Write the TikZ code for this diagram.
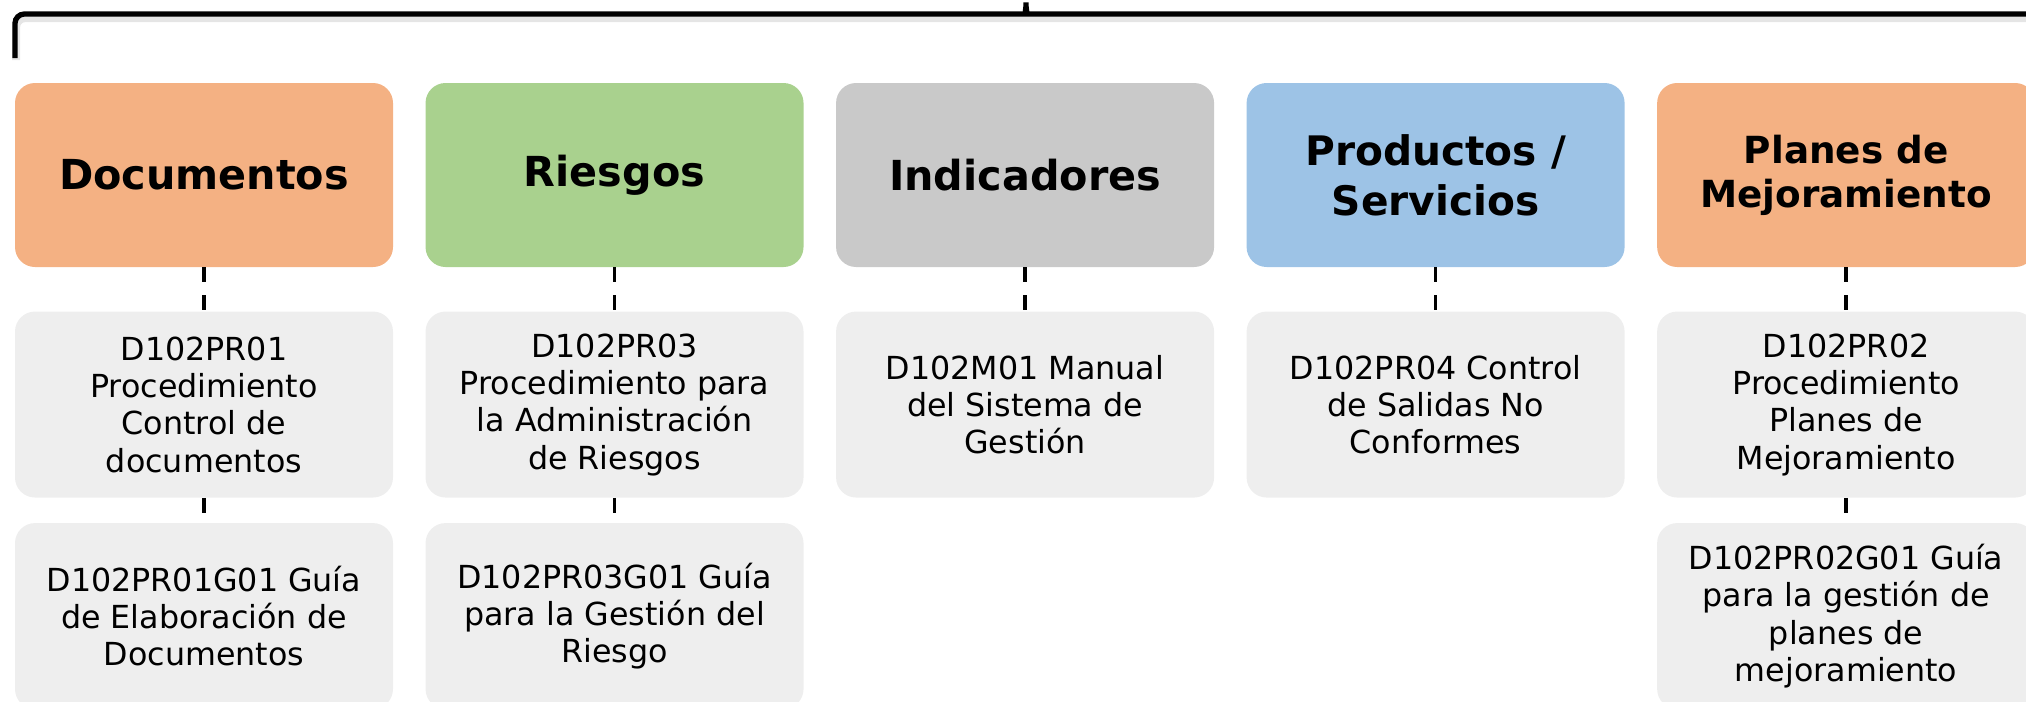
\documentclass[tikz,border=0pt]{standalone}
\usepackage{fontspec}
\setmainfont{DejaVu Sans}
\usetikzlibrary{positioning}

\definecolor{naranja}{HTML}{F4B183}
\definecolor{verde}{HTML}{A9D18E}
\definecolor{gris}{HTML}{C9C9C9}
\definecolor{azul}{HTML}{9DC3E6}
\definecolor{claro}{HTML}{EEEEEE}

\tikzset{
  cabeza/.style={
    rectangle,
    rounded corners=15pt,
    minimum width=283.5pt,
    minimum height=138pt,
    inner sep=0pt,
    align=center,
    font=\fontsize{31}{37}\selectfont\bfseries},
  cabezados/.style={
    cabeza,
    font=\fontsize{28}{33}\selectfont\bfseries},
  detalle/.style={
    rectangle,
    rounded corners=15pt,
    fill=claro,
    minimum width=283.5pt,
    minimum height=139.5pt,
    inner sep=0pt,
    align=center,
    font=\fontsize{23.8}{28}\selectfont},
  enlace/.style={line width=2.5pt, dash pattern=on 11.25pt off 9.75pt},
  llave/.style={line width=4pt, rounded corners=7pt}
}

\begin{document}
\begin{tikzpicture}[x=0.75pt, y=-0.75pt]
  \useasboundingbox (0,0) rectangle (2026,701);

  \node[cabeza, fill=naranja] (doc) at (204,175) {Documentos};
  \node[cabeza, fill=verde, right=24pt of doc] (rie) {Riesgos};
  \node[cabeza, fill=gris, right=24pt of rie] (ind) {Indicadores};
  \node[cabezados, fill=azul, font=\fontsize{30.5}{37.5}\selectfont\bfseries,
    right=24pt of ind] (pro) {Productos /\\Servicios};
  \node[cabezados, fill=naranja, right=24pt of pro] (pla) {Planes de\\Mejoramiento};

  \node[detalle, below=33pt of doc] (doc1) {D102PR01\\Procedimiento\\Control de\\documentos};
  \node[detalle, below=18.75pt of doc1] (doc2) {D102PR01G01 Guía\\de Elaboración de\\Documentos};

  \node[detalle, below=33pt of rie] (rie1) {D102PR03\\Procedimiento para\\la Administración\\de Riesgos};
  \node[detalle, below=18.75pt of rie1] (rie2) {D102PR03G01 Guía\\para la Gestión del\\Riesgo};

  \node[detalle, below=33pt of ind] (ind1) {D102M01 Manual\\del Sistema de\\Gestión};

  \node[detalle, below=33pt of pro] (pro1) {D102PR04 Control\\de Salidas No\\Conformes};

  \node[detalle, below=33pt of pla] (pla1) {D102PR02\\Procedimiento\\Planes de\\Mejoramiento};
  \node[detalle, below=18.75pt of pla1] (pla2) {D102PR02G01 Guía\\para la gestión de\\planes de\\mejoramiento};

  \draw[enlace] (doc)--(doc1);
  \draw[enlace] (doc1)--(doc2);
  \draw[enlace] (rie)--(rie1);
  \draw[enlace] (rie1)--(rie2);
  \draw[enlace] (ind)--(ind1);
  \draw[enlace] (pro)--(pro1);
  \draw[enlace] (pla)--(pla1);
  \draw[enlace] (pla1)--(pla2);

  % llave superior
  \draw[llave, black!10, line width=6pt] (16,60) -- (16,18) -- (2040,18);
  \draw[llave] (15,58) -- (15,14) -- (1018,14)
    .. controls (1024,14) and (1026,8) .. (1026,-3)
    .. controls (1026,8) and (1028,14) .. (1034,14) -- (2040,14);
\end{tikzpicture}
\end{document}
